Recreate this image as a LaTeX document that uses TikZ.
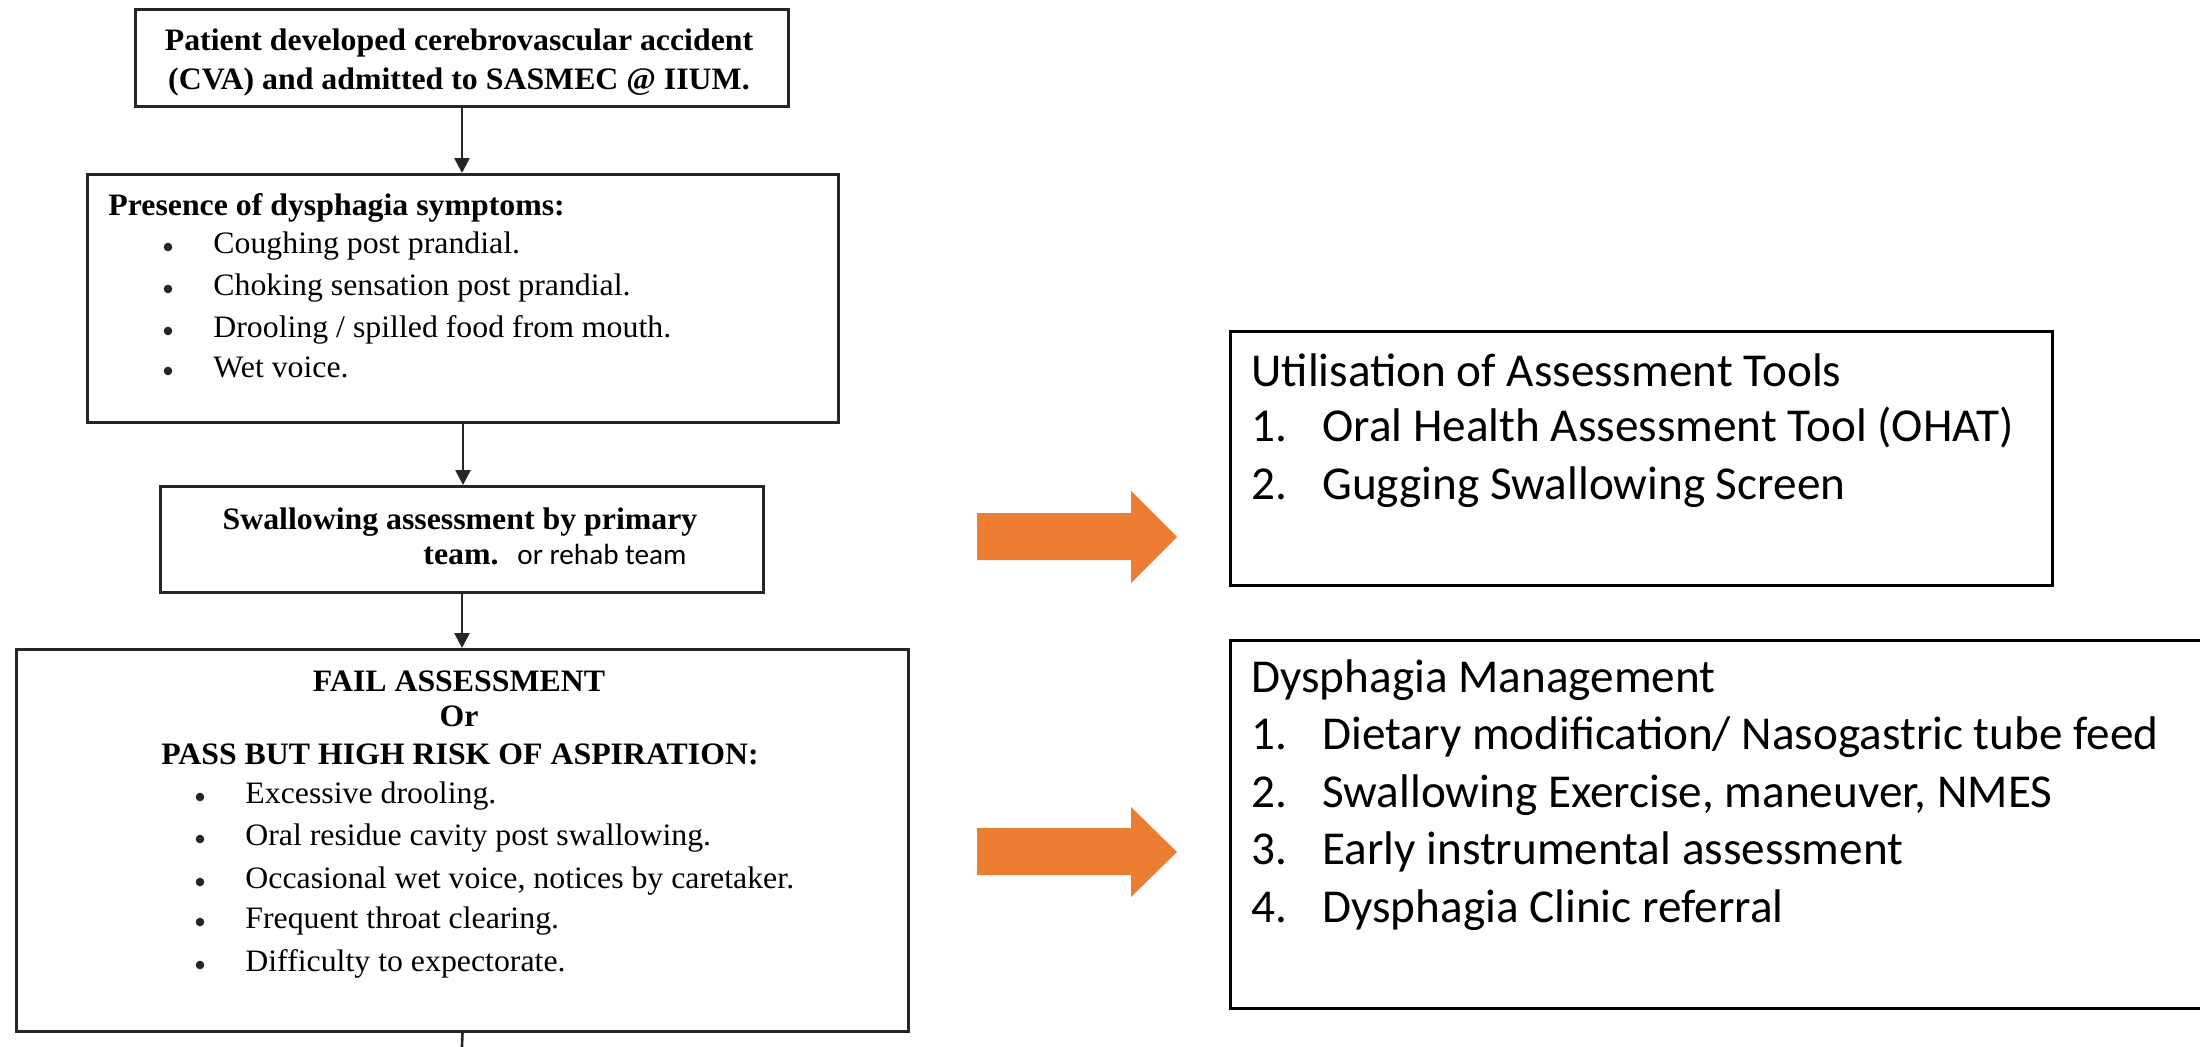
\documentclass[tikz,border=0pt]{standalone}
\usepackage{fontspec}
\setmainfont{Liberation Serif}
\newfontfamily\tnrfont[FakeStretch=1.02]{Liberation Serif}
\newfontfamily\calfont{Carlito}
\usetikzlibrary{arrows.meta}
\definecolor{offorange}{HTML}{ED7D31}
\begin{document}
\begin{tikzpicture}[x=0.5pt,y=-0.5pt,
  lbox/.style={draw=black!85, line width=1.5pt, inner sep=0pt, anchor=north west},
  rbox/.style={draw=black, line width=1.6pt, inner sep=0pt, anchor=north west},
  tl/.style={anchor=base west, inner sep=0pt, font=\tnrfont\fontsize{15.6pt}{18pt}\selectfont},
  tlb/.style={anchor=base west, inner sep=0pt, font=\tnrfont\bfseries\fontsize{15.6pt}{18pt}\selectfont},
  tc/.style={anchor=base, inner sep=0pt, font=\tnrfont\bfseries\fontsize{15.6pt}{18pt}\selectfont},
  bul/.style={circle, fill=black!85, inner sep=0pt, minimum size=4.3pt},
  rt/.style={anchor=base west, inner sep=0pt, font=\calfont\fontsize{23.6pt}{28pt}\selectfont},
  flow/.style={draw=black!85, line width=1.3pt, -{Triangle[width=7.5pt,length=7.5pt]}},
  plainline/.style={draw=black!85, line width=1.3pt}]
\fill[white] (0,0) rectangle (2200,1046);
\useasboundingbox (0,0) rectangle (2200,1046);

% left boxes
\node[lbox, minimum width=326.5pt, minimum height=48.5pt] (b1) at (134,8) {};
\node[lbox, minimum width=375.5pt, minimum height=124pt] (b2) at (86,173) {};
\node[lbox, minimum width=301.5pt, minimum height=53pt] (b3) at (159,485) {};
\node[lbox, minimum width=446pt, minimum height=191pt] (b4) at (15,648) {};

% right boxes
\node[rbox, minimum width=411pt, minimum height=127pt] (r1) at (1229,330) {};
\node[rbox, minimum width=485.5pt, minimum height=184pt] (r2) at (1229,639) {};

% connectors
\draw[flow] (b1.south) -- (b1.south |- b2.north);
\draw[flow] (b2.south) -- (b2.south |- b3.north);
\draw[flow] (b3.south) -- (b3.south |- b4.north);
\coordinate (bend) at (461,1070);
\draw[plainline] (b4.south) -- (bend);

% orange block arrows
\fill[offorange] (977,513) -- (1131,513) -- (1131,491) -- (1177,537) -- (1131,583) -- (1131,560) -- (977,560) -- cycle;
\fill[offorange] (977,828) -- (1131,828) -- (1131,807) -- (1177,852) -- (1131,897) -- (1131,875) -- (977,875) -- cycle;

% box 1 text
\node[tc] (t1a) at (459,50) {Patient developed cerebrovascular accident};
\node[tc] (t1b) at (459,89) {(CVA) and admitted to SASMEC @ IIUM.};

% box 2 text
\node[tlb] (t2h) at (108,215) {Presence of dysphagia symptoms:};
\node[bul] (t2b1) at (168,247) {};
\node[tl] (t2i1) at (213,253) {Coughing post prandial.};
\node[bul] (t2b2) at (168,289) {};
\node[tl] (t2i2) at (213,295) {Choking sensation post prandial.};
\node[bul] (t2b3) at (168,331) {};
\node[tl] (t2i3) at (213,337) {Drooling / spilled food from mouth.};
\node[bul] (t2b4) at (168,371) {};
\node[tl] (t2i4) at (213,377) {Wet voice.};

% box 3 text
\node[tc] (t3a) at (460,529) {Swallowing assessment by primary};
\node[tlb] (t3b) at (423,564) {team.};
\node[anchor=base west, inner sep=0pt, font=\calfont\fontsize{14.6pt}{16pt}\selectfont] (t3c) at (517,564) {or rehab team};

% box 4 text
\node[tc] (t4a) at (459,691) {FAIL ASSESSMENT};
\node[tc] (t4b) at (459,726) {Or};
\node[tc] (t4c) at (460,764) {PASS BUT HIGH RISK OF ASPIRATION:};
\node[bul] (t4b1) at (200,797) {};
\node[tl] (t4i1) at (245,803) {Excessive drooling.};
\node[bul] (t4b2) at (200,839) {};
\node[tl] (t4i2) at (245,845) {Oral residue cavity post swallowing.};
\node[bul] (t4b3) at (200,882) {};
\node[tl] (t4i3) at (245,888) {Occasional wet voice, notices by caretaker.};
\node[bul] (t4b4) at (200,922) {};
\node[tl] (t4i4) at (245,928) {Frequent throat clearing.};
\node[bul] (t4b5) at (200,965) {};
\node[tl] (t4i5) at (245,971) {Difficulty to expectorate.};

% right box 1 text
\node[rt] (r1h) at (1251,386) {Utilisation of Assessment Tools};
\node[rt] (r1n1) at (1251,441) {1.};
\node[rt] (r1i1) at (1322,441) {Oral Health Assessment Tool (OHAT)};
\node[rt] (r1n2) at (1251,499) {2.};
\node[rt] (r1i2) at (1322,499) {Gugging Swallowing Screen};

% right box 2 text
\node[rt] (r2h) at (1251,692) {Dysphagia Management};
\node[rt] (r2n1) at (1251,749.5) {1.};
\node[rt] (r2i1) at (1322,749.5) {Dietary modification/ Nasogastric tube feed};
\node[rt] (r2n2) at (1251,807) {2.};
\node[rt] (r2i2) at (1322,807) {Swallowing Exercise, maneuver, NMES};
\node[rt] (r2n3) at (1251,864.5) {3.};
\node[rt] (r2i3) at (1322,864.5) {Early instrumental assessment};
\node[rt] (r2n4) at (1251,922) {4.};
\node[rt] (r2i4) at (1322,922) {Dysphagia Clinic referral};
\end{tikzpicture}
\end{document}
